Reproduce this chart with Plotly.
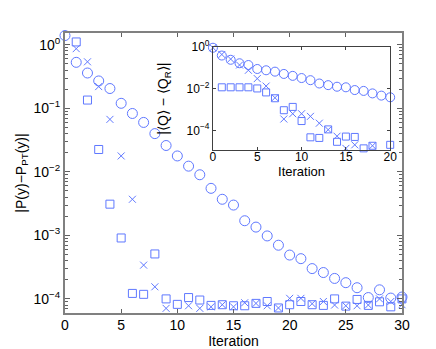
import plotly.graph_objects as go

# ---------------- data: main panel ----------------
iters_main = list(range(0, 31))
circ_main = [1.4, 0.53, 0.36, 0.27, 0.205, 0.12, 0.083, 0.060, 0.040, 0.026,
             0.0178, 0.0123, 0.009, 0.0055, 0.0037, 0.003, 0.0017, 0.00135,
             0.00098, 0.0007, 0.00049, 0.00043, 0.0003, 0.00026, 0.00021,
             0.00018, 0.00015, 0.000105, 0.000139, 0.000103, 0.000107]
sq_main = [None, 1.11, 0.135, 0.0225, 0.0031, 0.00091, 0.000122, 0.000118,
           0.00051, 0.0001, 0.000082, 0.000105, 0.000096, 0.000079, 0.000081,
           0.000078, 0.000078, 0.000085, 0.000091, 0.000072, 0.000081,
           0.000091, 0.000081, 0.000079, 0.0001, 0.000077, 0.000098,
           0.000079, 0.00009, 0.000075, 0.0001]
x_main = [None, 0.87, 0.54, 0.22, 0.067, 0.0178, 0.0037, 0.00034, 0.000155,
          0.000071, None, 0.000078, 0.000071, 0.000075, 0.000081, 0.000075,
          0.000087, 0.000085, 0.000078, 0.000072, 0.000102, 0.000102,
          0.000084, 0.000091, 0.00008, 0.000078, 0.000078, 0.00008, 0.0001,
          0.000091, 0.000081]

# ---------------- data: inset ----------------
iters_ins = list(range(0, 21))
circ_ins = [0.95, 0.4, 0.25, 0.17, 0.14, 0.09, 0.078, 0.067, 0.052, 0.042,
            0.033, 0.026, 0.018, 0.015, 0.0126, 0.0118, 0.0087, 0.0079,
            0.006, 0.0047, 0.0039]
sq_ins = [None, 0.0118, 0.0118, 0.0118, 0.0118, 0.0104, 0.0067, 0.0035,
          0.00093, 0.00134, 0.00028, 4.6e-5, 4.3e-5, 0.000111, 2.8e-5,
          5.0e-5, 4.8e-5, 1.35e-5, 1.8e-5, None, 2.0e-5]
x_ins = [0.95, 0.45, 0.27, 0.14, 0.078, 0.031, 0.0135, 0.0037, 0.00035,
         0.00063, 0.00063, 0.00047, 0.00022, 0.000107, 5.2e-5, 1.35e-5,
         2.0e-5, None, 1.8e-5, None, None]

main_yticks = [1, 0.1, 0.01, 0.001, 0.0001]
main_yticktext = ["10<sup>0</sup>", "10<sup>−1</sup>", "10<sup>−2</sup>",
                  "10<sup>−3</sup>", "10<sup>−4</sup>"]
ins_yticks = [1, 0.01, 0.0001]
ins_yticktext = ["10<sup>0</sup>", "10<sup>−2</sup>", "10<sup>−4</sup>"]

COL = "rgb(95,120,255)"
FONT = "Liberation Sans, Arial, sans-serif"

minor_vals = []
for e in range(-6, 1):
    for m in range(2, 10):
        minor_vals.append(m * 10 ** e)

fig = go.Figure()

def add_series(x, y, symbol, size, xa, ya):
    fig.add_trace(go.Scatter(
        x=x, y=y, mode="markers", xaxis=xa, yaxis=ya, showlegend=False,
        marker=dict(symbol=symbol, size=size, color=COL,
                    line=dict(color=COL, width=1)),
        cliponaxis=False))

add_series(iters_main, circ_main, "circle-open", 10, "x", "y")
add_series(iters_main, sq_main, "square-open", 8, "x", "y")
add_series(iters_main, x_main, "x-thin-open", 7, "x", "y")

add_series(iters_ins, circ_ins, "circle-open", 9, "x2", "y2")
add_series(iters_ins, sq_ins, "square-open", 7, "x2", "y2")
add_series(iters_ins, x_ins, "x-thin-open", 7, "x2", "y2")

axis_common = dict(showgrid=False, zeroline=False, showline=True,
                   mirror="ticks", ticks="inside")

fig.update_layout(
    width=436, height=349,
    margin=dict(l=57, r=42, t=25, b=40),
    paper_bgcolor="white", plot_bgcolor="white",
    font=dict(family=FONT, color="black", size=14),
    xaxis=dict(**axis_common, range=[0, 30], tickvals=[0, 5, 10, 15, 20, 25, 30],
               linecolor="#808080", linewidth=2, tickcolor="#606060", ticklen=4,
               tickfont=dict(size=14), ticklabelstandoff=-2,
               title=dict(text="Iteration", font=dict(size=14), standoff=2)),
    yaxis=dict(**axis_common, type="log", range=[-4.222, 0.186],
               tickvals=main_yticks, ticktext=main_yticktext,
               linecolor="#808080", linewidth=2, tickcolor="#606060", ticklen=5,
               tickfont=dict(size=14),
               minor=dict(tickvals=minor_vals, ticks="inside", ticklen=3,
                          tickcolor="#606060", showgrid=False),
               title=dict(text="|P(y)−P<sub>PT</sub>(y)|", font=dict(size=14),
                          standoff=4)),
    xaxis2=dict(**axis_common, domain=[0.439, 0.965], anchor="y2",
                range=[0, 20], tickvals=[0, 5, 10, 15, 20],
                linecolor="#404040", linewidth=1, tickcolor="#404040", ticklen=3,
                tickfont=dict(size=12), ticklabelstandoff=-4,
                title=dict(text="Iteration", font=dict(size=13), standoff=0)),
    yaxis2=dict(**axis_common, domain=[0.582, 0.949], anchor="x2", type="log",
                range=[-4.95, 0], tickvals=ins_yticks, ticktext=ins_yticktext,
                linecolor="#404040", linewidth=1, tickcolor="#404040", ticklen=3,
                tickfont=dict(size=12),
                title=dict(text="|⟨Q⟩ − ⟨Q<sub>R</sub>⟩|", font=dict(size=14),
                           standoff=14)),
)

fig.write_html("out.html")
